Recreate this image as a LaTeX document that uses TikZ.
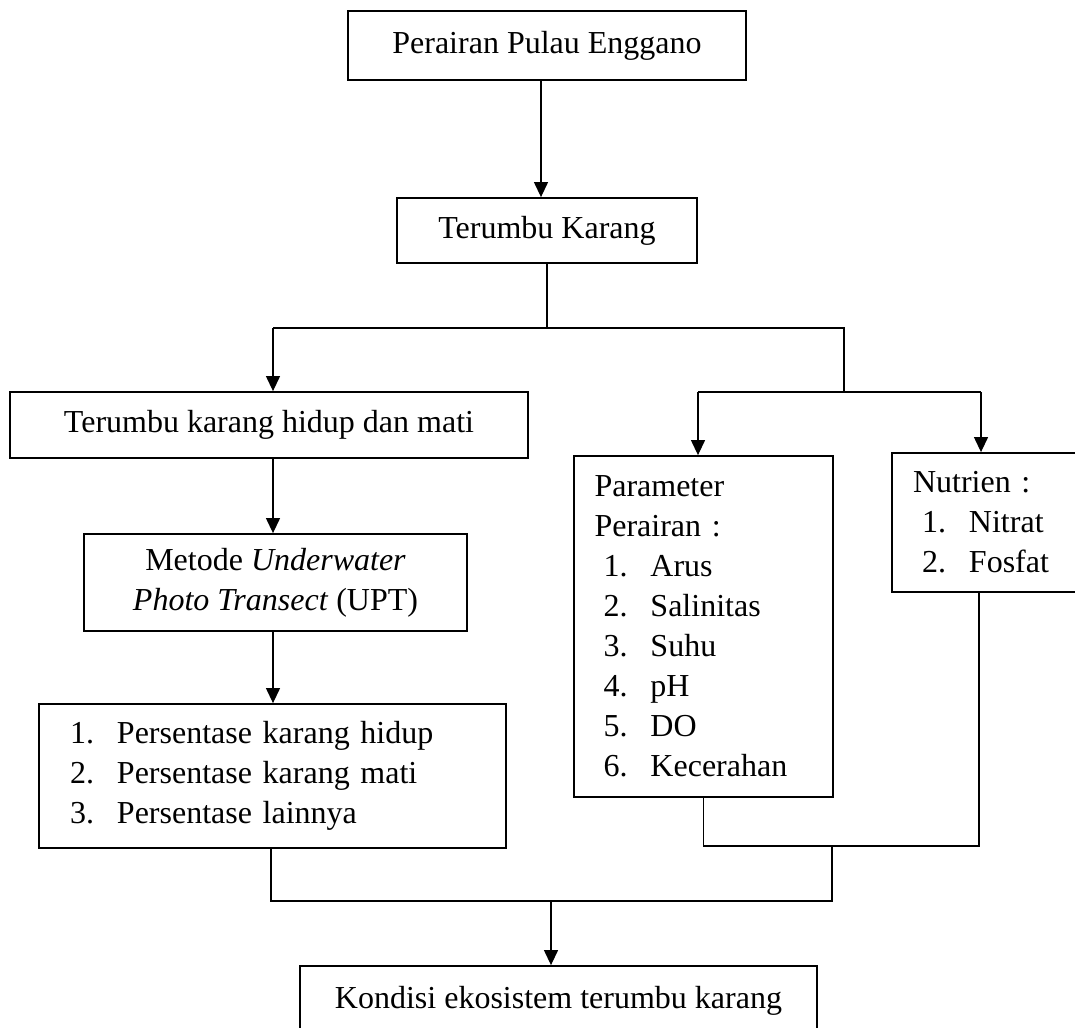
\documentclass[tikz,border=0pt]{standalone}
\usepackage{fontspec}
\setmainfont{Liberation Serif}
\usetikzlibrary{arrows.meta}

\newcommand{\nomor}[1]{\makebox[23.5pt][l]{#1}}

\begin{document}
\begin{tikzpicture}[x=0.5pt,y=-0.5pt,
  kotak/.style={draw,line width=0.9pt,inner sep=0pt,font=\fontsize{16}{20}\selectfont},
  garis/.style={line width=0.6pt},
  panah/.style={garis,-{Triangle[length=7.5pt,width=7pt]}}]

\useasboundingbox (0,0) rectangle (1075,1027);

\node[kotak,minimum width=199pt,minimum height=34.5pt] (pulau) at (547,45.5) {Perairan Pulau Enggano};
\node[kotak,minimum width=150pt,minimum height=32.5pt] (terumbu) at (547,230.5) {Terumbu Karang};
\node[kotak,minimum width=259pt,minimum height=33pt] (hidupmati) at (269,425) {Terumbu karang hidup dan mati};
\node[kotak,minimum width=191.5pt,minimum height=48.5pt,align=center] (metode) at (275.5,582.5)
  {Metode \textit{Underwater}\\\textit{Photo Transect} (UPT)};
\node[kotak,inner xsep=15.5pt,text width=202.5pt,minimum height=72pt,align=left] (persen) at (272.5,776)
  {\nomor{1.}Persentase karang hidup\\\nomor{2.}Persentase karang mati\\\nomor{3.}Persentase lainnya};
\node[kotak,inner xsep=10.25pt,text width=109pt,minimum height=170.5pt,align=left] (param) at (703.5,626.5)
  {Parameter\\Perairan :\\
   \hspace*{4.5pt}\nomor{1.}Arus\\\hspace*{4.5pt}\nomor{2.}Salinitas\\\hspace*{4.5pt}\nomor{3.}Suhu\\
   \hspace*{4.5pt}\nomor{4.}pH\\\hspace*{4.5pt}\nomor{5.}DO\\\hspace*{4.5pt}\nomor{6.}Kecerahan};
\node[kotak,inner xsep=10.5pt,text width=78pt,minimum height=69.5pt,align=left] (nutrien) at (991,522.5)
  {Nutrien :\\\hspace*{4.5pt}\nomor{1.}Nitrat\\\hspace*{4.5pt}\nomor{2.}Fosfat};
\node[kotak,minimum width=258.5pt,minimum height=35pt] (kondisi) at (558.5,1001) {Kondisi ekosistem terumbu karang};

\coordinate (a1) at ([xshift=-3pt]pulau.south);
\draw[panah] (a1) -- (a1 |- terumbu.north);

\coordinate (c1) at (273,328);
\coordinate (c2) at (844,328);
\coordinate (c3) at (698,392);
\coordinate (c4) at (981,392);
\draw[garis] (terumbu.south) -- (terumbu.south |- c1);
\draw[garis] (c1) -- (c2) -- (c2 |- c3);
\draw[garis] (c3) -- (c4);
\draw[panah] (c1) -- (c1 |- hidupmati.north);
\draw[panah] (c3) -- (c3 |- param.north);
\draw[panah] (c4) -- (c4 |- nutrien.north);
\draw[panah] (hidupmati.south -| c1) -- (metode.north -| c1);
\draw[panah] (metode.south -| c1) -- (persen.north -| c1);

\coordinate (d1) at (271,901);
\coordinate (d2) at (832,901);
\coordinate (d3) at (979,846);
\coordinate (d4) at (551,901);
\draw[garis] (persen.south -| d1) -- (d1) -- (d2) -- (d2 |- d3);
\draw[garis] (param.south) |- (d3) -- (nutrien.south -| d3);
\draw[panah] (d4) -- (d4 |- kondisi.north);

\end{tikzpicture}
\end{document}
